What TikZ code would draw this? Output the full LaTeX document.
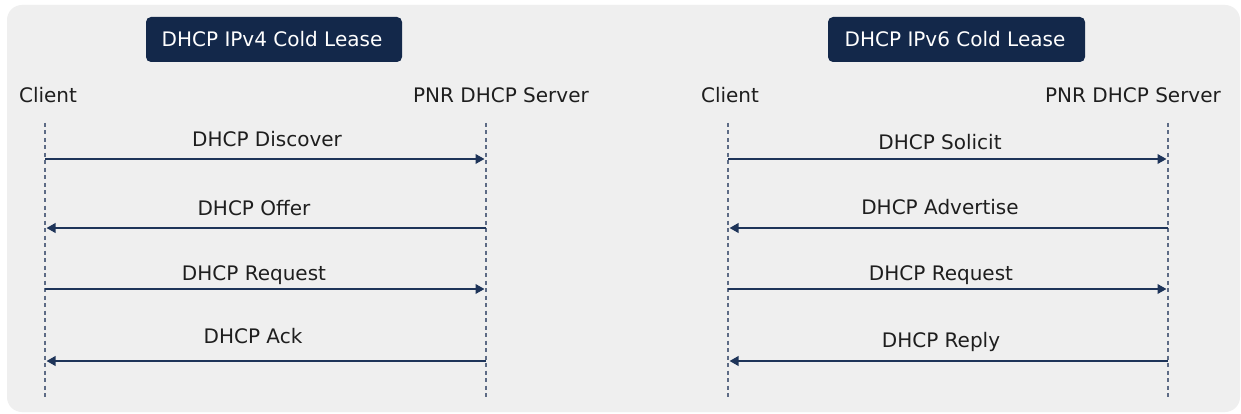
\documentclass[tikz,border=0pt]{standalone}
\usepackage{fontspec}
\setmainfont{DejaVu Sans}
\usetikzlibrary{arrows.meta}
\definecolor{panel}{HTML}{EFEFEF}
\definecolor{navy}{HTML}{13284A}
\definecolor{msgc}{HTML}{1E3459}
\definecolor{lifec}{HTML}{5D6B85}
\definecolor{txt}{HTML}{1E1E1E}
\tikzset{
  lbl/.style={font=\fontsize{20}{24}\selectfont, text=txt, anchor=base, inner sep=0pt},
  title/.style={fill=navy, rounded corners=5pt, text=white, font=\fontsize{20}{24}\selectfont, inner sep=0pt},
  life/.style={draw=lifec, line width=1.4pt, dash pattern=on 4pt off 3.5pt},
  msg/.style={draw=msgc, line width=2pt, -{Triangle[length=9pt,width=9.5pt]}, shorten >=1.5pt}
}
\begin{document}
\begin{tikzpicture}[x=1pt,y=-1pt]
\useasboundingbox (0,0) rectangle (1241,414);
\fill[white] (0,0) rectangle (1241,414);
\fill[panel, rounded corners=15pt] (7,5) rectangle (1240,412);

% titles
\node[title, minimum width=256pt, minimum height=45pt] (t4) at (274,39.5) {};
\node[lbl, text=white] (t4t) at (272,47) {DHCP IPv4 Cold Lease};
\node[title, minimum width=257pt, minimum height=45pt] (t6) at (956.5,39.5) {};
\node[lbl, text=white] (t6t) at (955,47) {DHCP IPv6 Cold Lease};

% participants
\node[lbl] (lc) at (48,103) {Client};
\node[lbl] (ls) at (501,103) {PNR DHCP Server};
\node[lbl] (rc) at (730,103) {Client};
\node[lbl] (rs) at (1133,103) {PNR DHCP Server};

% lifelines
\coordinate (lcT) at (45,123); \coordinate (lcB) at (45,399);
\coordinate (lsT) at (486,123); \coordinate (lsB) at (486,399);
\coordinate (rcT) at (728,123); \coordinate (rcB) at (728,399);
\coordinate (rsT) at (1168,123); \coordinate (rsB) at (1168,399);
\draw[life] (lcT) -- (lcB);
\draw[life] (lsT) -- (lsB);
\draw[life] (rcT) -- (rcB);
\draw[life] (rsT) -- (rsB);

% message points
\foreach \n/\y in {1/159,2/228,3/289,4/361}{
  \coordinate (lc\n) at (45,\y);
  \coordinate (ls\n) at (486,\y);
  \coordinate (rc\n) at (728,\y);
  \coordinate (rs\n) at (1168,\y);
}

% IPv4
\draw[msg] (lc1) -- (ls1);
\node[lbl] (m1) at (267,147) {DHCP Discover};
\draw[msg] (ls2) -- (lc2);
\node[lbl] (m2) at (254,215) {DHCP Offer};
\draw[msg] (lc3) -- (ls3);
\node[lbl] (m3) at (254,280) {DHCP Request};
\draw[msg] (ls4) -- (lc4);
\node[lbl] (m4) at (253,343) {DHCP Ack};

% IPv6
\draw[msg] (rc1) -- (rs1);
\node[lbl] (n1) at (940,150) {DHCP Solicit};
\draw[msg] (rs2) -- (rc2);
\node[lbl] (n2) at (940,214) {DHCP Advertise};
\draw[msg] (rc3) -- (rs3);
\node[lbl] (n3) at (941,280) {DHCP Request};
\draw[msg] (rs4) -- (rc4);
\node[lbl] (n4) at (941,347) {DHCP Reply};
\end{tikzpicture}
\end{document}
